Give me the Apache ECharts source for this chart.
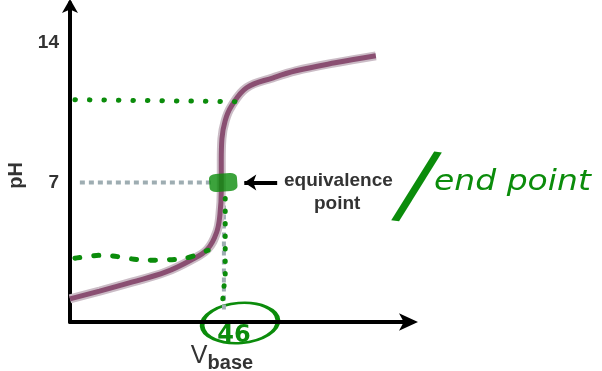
<!DOCTYPE html>
<html><head><meta charset="utf-8">
<script src="https://cdn.jsdelivr.net/npm/echarts@6/dist/echarts.min.js"></script>
<style>html,body{margin:0;padding:0;background:#fff}#c{width:602px;height:371px}</style>
</head><body><div id="c"></div>
<script>
// Titration curve: [V_base, pH]
var curve = [[0,1.16],[9,1.55],[18.8,2.0],[29,2.5],[36.7,3.1],[41.8,3.65],[44.6,4.5],[45.6,5.4],[46,6.6],[46,7.1],[46,8.1],[46.2,9.2],[47.2,10.1],[49,10.8],[53.7,11.75],[61.8,12.25],[68.7,12.6],[80.6,13.0],[93,13.35]];
var yTicks = [7, 14];
var equivalence = [46.6, 7];
var equivVolumeLabel = '46';
var grayH = [[3,7],[43.5,7]];
var grayV = [[46.8,6.3],[46.8,0.6]];
var greenTop = [[1.5,11.15],[51,11.05]];
var greenLow = [[1.5,3.2],[10,3.35],[23,3.1],[35,3.2],[42,3.6]];
var greenV = [[47.2,6.2],[47.2,2.4],[46.2,0.7]];
var arrowFrom = [63,7], arrowTo = [53,7];

var chart = echarts.init(document.getElementById('c'), null, {renderer:'canvas'});
var green = '#0b8c0b';
chart.setOption({
  animation:false,
  grid:{left:70, right:190, top:3, bottom:49, containLabel:false, outerBoundsMode:'none'},
  xAxis:{type:'value', min:0, max:104,
    axisLine:{lineStyle:{color:'#000',width:4}, symbol:['none','arrow'], symbolSize:[13,19], symbolOffset:[0,6]},
    axisTick:{show:false}, axisLabel:{show:false}, splitLine:{show:false},
    name:'{v|V}{s|base}', nameLocation:'middle', nameGap:17,
    nameTextStyle:{padding:[0,38,0,0], rich:{v:{fontFamily:'Liberation Sans',fontSize:25,color:'#333'},
      s:{fontFamily:'Liberation Sans',fontSize:20,fontWeight:'bold',color:'#333',padding:[14,0,0,0]}}}
  },
  yAxis:{type:'value', min:0, max:16, interval:7,
    axisLine:{show:true, lineStyle:{color:'#000',width:4}, symbol:['none','arrow'], symbolSize:[12,14], symbolOffset:[0,4]},
    axisTick:{show:false}, splitLine:{show:false},
    axisLabel:{margin:11, fontFamily:'Liberation Sans', fontWeight:'bold', fontSize:19, color:'#333',
      formatter:function(v){return yTicks.indexOf(v)>=0 ? String(v) : '';}},
    name:'pH', nameLocation:'middle', nameGap:42, nameRotate:90,
    nameTextStyle:{fontFamily:'Liberation Sans', fontWeight:'bold', fontSize:20, color:'#333', padding:[0,26,0,0]}
  },
  series:[
    {type:'line', data:grayH, symbol:'none', lineStyle:{color:'#9eadb2', width:4, type:[5,4]}},
    {type:'line', data:grayV, symbol:'none', lineStyle:{color:'#9eadb2', width:4, type:[5,4]}},
    {type:'line', data:curve, smooth:0.4, symbol:'none', lineStyle:{color:'#cbbcc6', width:9}},
    {type:'line', data:curve, smooth:0.4, symbol:'none', lineStyle:{color:'#8a4f72', width:5}},
    {type:'line', data:greenTop, symbol:'none', lineStyle:{color:green, width:5, type:[0.5,14], cap:'round'}},
    {type:'line', data:greenLow, smooth:0.3, symbol:'none', lineStyle:{color:green, width:5, type:[5,14], cap:'round'}},
    {type:'line', data:greenV, symbol:'none', lineStyle:{color:green, width:5, type:[0.5,12], cap:'round'}},
    {type:'scatter', data:[equivalence], symbol:'roundRect', symbolSize:[28,18], symbolRotate:4,
      itemStyle:{color:green}, z:5,
      markLine:{silent:true, symbol:['none','arrow'], symbolSize:[12,12], lineStyle:{color:'#000', width:4, type:'solid'},
        label:{show:false}, data:[[{coord:arrowFrom},{coord:arrowTo}]]}
    }
  ],
  graphic:[
    {type:'text', left:284, top:171, style:{text:'equivalence', font:'bold 19px "Liberation Sans"', fill:'#333'}},
    {type:'text', left:314, top:194, style:{text:'point', font:'bold 19px "Liberation Sans"', fill:'#333'}},
    {type:'text', x:414, y:194, rotation:-0.12, style:{text:'/', font:'italic 100px "Liberation Sans"', fill:green, align:'center', verticalAlign:'middle'}},
    {type:'text', x:434, y:183, scaleY:0.85, style:{text:'end point', font:'italic 33px "DejaVu Sans"', fill:green, verticalAlign:'middle'}},
    {type:'circle', shape:{cx:0, cy:0, r:20}, x:240, y:323, rotation:0.08, scaleX:1.9, scaleY:1.0,
      style:{fill:'none', stroke:green, lineWidth:2.5}},
    {type:'text', x:234, y:336, style:{text:equivVolumeLabel, font:'bold 24px "DejaVu Sans"', fill:green, align:'center', verticalAlign:'middle'}}
  ]
});
</script></body></html>
